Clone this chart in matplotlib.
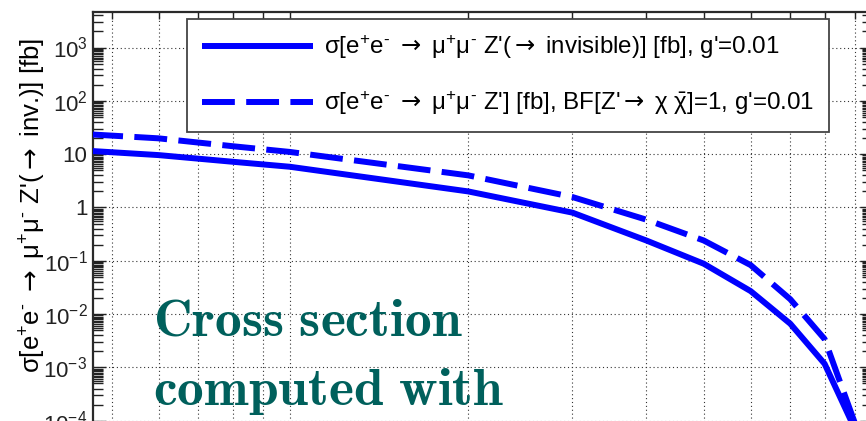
import matplotlib
matplotlib.use("Agg")
import matplotlib.pyplot as plt
import matplotlib.ticker as mticker
import numpy as np

plt.rcParams['font.family'] = ['Liberation Sans', 'DejaVu Sans']
plt.rcParams['mathtext.fontset'] = 'custom'
plt.rcParams['mathtext.rm'] = 'Liberation Sans'
plt.rcParams['mathtext.it'] = 'Liberation Sans'
plt.rcParams['mathtext.bf'] = 'Liberation Sans:bold'
plt.rcParams['mathtext.sf'] = 'DejaVu Sans'

# Z' mass [GeV] and cross sections [fb]
mass = [0.46, 0.6, 0.8, 1.0, 2.0, 3.0, 4.0, 5.0, 6.0, 7.0, 8.0, 9.0]
xsec_invisible = [11.5, 9.6, 7.2, 5.8, 2.0, 0.80, 0.24, 0.088, 0.027, 0.0066, 0.00117, 7e-5]
xsec_bf1 = [23.5, 19.8, 14.1, 11.0, 4.0, 1.57, 0.59, 0.24, 0.083, 0.019, 0.0034, 9e-5]

arrow = r"$\mathsf{\rightarrow}$"
ee = "e$^{+}$e$^{\u2010}$"
mumu = "μ$^{+}$μ$^{\u2010}$"
label_inv = f"σ[{ee} {arrow} {mumu} Z'({arrow} invisible)] [fb], g'=0.01"
label_bf = f"σ[{ee} {arrow} {mumu} Z'] [fb], BF[Z'{arrow} χ $\\bar{{\\chi}}$]=1, g'=0.01"
ylabel = f"σ[{ee} {arrow} {mumu} Z'({arrow} inv.)] [fb]"
note_lines = [r"$\mathbf{Cross\ section}$", r"$\mathbf{computed\ with}$"]

W, H = 866, 421
fig = plt.figure(figsize=(W / 100, H / 100), dpi=100)

# axes frame runs past the right and bottom edges of the canvas
left_px, right_px, top_px, bottom_px = 93, 872, 12, 474
ax = fig.add_axes([left_px / W, 1 - bottom_px / H,
                   (right_px - left_px) / W, (bottom_px - top_px) / H])

ax.plot(mass, xsec_invisible, color='#0000ff', lw=4.3, solid_capstyle='butt',
        label=label_inv, zorder=3)
ax.plot(mass, xsec_bf1, color='#0000ff', lw=4.3, dashes=(5.5, 1.9),
        dash_capstyle='butt', label=label_bf, zorder=3)

ax.set_xscale('log')
ax.set_yscale('log')
ax.set_xlim(0.465, 9.62)
ax.set_ylim(1e-5, 4640)

ax.yaxis.set_major_locator(mticker.LogLocator(base=10, numticks=20))
ax.yaxis.set_minor_locator(mticker.LogLocator(
    base=10, subs=[2, 3, 4, 5, 5.5, 6, 6.5, 7, 7.5, 8, 8.5, 9, 9.5], numticks=20))


def ylab(v, pos):
    e = int(round(np.log10(v)))
    if e == 0:
        return '1'
    if e == 1:
        return '10'
    return '$10^{%d}$' % e


ax.yaxis.set_major_formatter(mticker.FuncFormatter(ylab))
ax.xaxis.set_major_locator(mticker.LogLocator(base=10, numticks=10))
ax.xaxis.set_minor_locator(mticker.LogLocator(base=10, subs=np.arange(2, 10), numticks=10))
ax.xaxis.set_minor_formatter(mticker.NullFormatter())

ax.tick_params(axis='both', which='both', direction='in', top=True, right=True,
               colors='#222222', width=1.0)
ax.tick_params(axis='y', which='major', length=9, labelsize=16, pad=4)
ax.tick_params(axis='y', which='minor', length=7)
ax.tick_params(axis='x', which='major', length=9)
ax.tick_params(axis='x', which='minor', length=5)

ax.grid(True, axis='x', which='both', color='#333333', lw=0.8, ls=(0, (1, 2.5)))
ax.grid(True, axis='y', which='major', color='#333333', lw=0.8, ls=(0, (1, 2.5)))
for sp in ax.spines.values():
    sp.set_linewidth(1.6)
    sp.set_color('#2a2a2a')

fig.text(33 / W, 1 - 205 / H, ylabel, rotation=90, fontsize=18.5,
         ha='center', va='center')

leg = ax.legend(loc='upper left', bbox_to_anchor=(187 / W, 1 - 19 / H),
                bbox_transform=fig.transFigure, borderaxespad=0, fontsize=17.4,
                handlelength=4.6, handletextpad=0.47, borderpad=0.6,
                labelspacing=1.15, fancybox=False, framealpha=1)
leg.get_frame().set_edgecolor('#444444')
leg.get_frame().set_linewidth(1.3)

fig.text(153 / W, 1 - 335 / H, note_lines[0], fontsize=38.5, color='#00605c',
         math_fontfamily='cm', va='baseline')
fig.text(153 / W, 1 - 405 / H, note_lines[1], fontsize=38.5, color='#00605c',
         math_fontfamily='cm', va='baseline')

fig.savefig('out.png', dpi=100)
